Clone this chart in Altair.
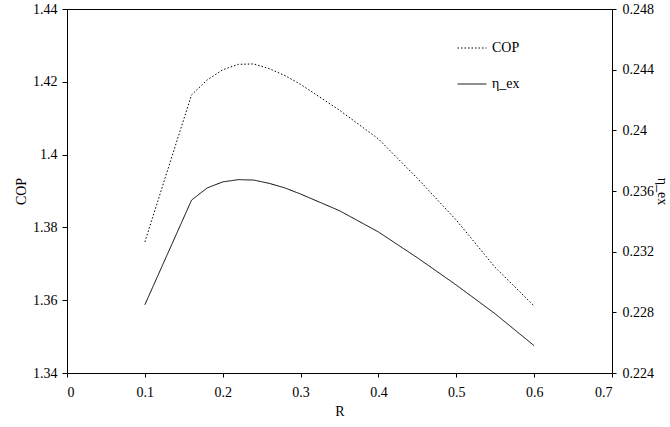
import altair as alt
import pandas as pd

R = [0.10, 0.12, 0.14, 0.16, 0.18, 0.20, 0.22, 0.24, 0.26, 0.28, 0.30,
     0.35, 0.40, 0.45, 0.50, 0.55, 0.60]
COP = [1.3760, 1.3895, 1.4030, 1.4164, 1.4205, 1.4233, 1.4248, 1.4249,
       1.4236, 1.4217, 1.4193, 1.4122, 1.4043, 1.3935, 1.3820, 1.3690, 1.3584]
ETA = [0.2285, 0.2308, 0.2331, 0.2354, 0.2362, 0.2366, 0.23675, 0.23672,
       0.2365, 0.2362, 0.2358, 0.2347, 0.2333, 0.2316, 0.2298, 0.2279, 0.2258]

x_ticks = [0, 0.1, 0.2, 0.3, 0.4, 0.5, 0.6, 0.7]
cop_ticks = [1.34, 1.36, 1.38, 1.40, 1.42, 1.44]
eta_ticks = [0.224, 0.228, 0.232, 0.236, 0.240, 0.244, 0.248]

df = pd.DataFrame({
    "R": R * 2,
    "value": COP + ETA,
    "series": ["COP"] * len(R) + ["η_ex"] * len(R),
})

FONT = "Liberation Serif"
AX = dict(labelFont=FONT, titleFont=FONT, labelFontSize=14, titleFontSize=14,
          titleFontWeight="normal", labelColor="black", titleColor="black",
          domainColor="black", tickColor="black", grid=False, format="~g")

dash = alt.StrokeDash(
    "series:N",
    scale=alt.Scale(domain=["COP", "η_ex"], range=[[1.5, 2], [1, 0]]),
    legend=alt.Legend(
        title=None, orient="none", legendX=390, legendY=24,
        symbolType="stroke", symbolSize=840, symbolStrokeColor="black",
        symbolStrokeWidth=1, labelFont=FONT, labelFontSize=14,
        labelColor="black", labelOffset=5, rowPadding=14,
    ),
)

xenc = alt.X("R:Q", title="R",
             scale=alt.Scale(domain=[0, 0.7], nice=False),
             axis=alt.Axis(values=x_ticks, tickSize=4, labelPadding=8,
                           titlePadding=5, **AX))

cop_line = alt.Chart(df).transform_filter(alt.datum.series == "COP").mark_line(
    color="black", strokeWidth=1
).encode(
    x=xenc,
    y=alt.Y("value:Q", title="COP",
            scale=alt.Scale(domain=[1.34, 1.44], nice=False, zero=False),
            axis=alt.Axis(values=cop_ticks, orient="left", tickSize=5,
                          labelPadding=5, titlePadding=4, **AX)),
    strokeDash=dash,
)

eta_line = alt.Chart(df).transform_filter(alt.datum.series == "η_ex").mark_line(
    color="black", strokeWidth=1
).encode(
    x=xenc,
    y=alt.Y("value:Q", title="η_ex",
            scale=alt.Scale(domain=[0.224, 0.248], nice=False, zero=False),
            axis=alt.Axis(values=eta_ticks, orient="right", tickSize=4,
                          labelPadding=6, titlePadding=1, **AX)),
    strokeDash=dash,
)

chart = alt.layer(cop_line, eta_line).resolve_scale(
    y="independent"
).properties(
    width=545, height=364,
    autosize=alt.AutoSizeParams(type="none"),
    padding={"left": 67, "top": 9, "right": 58, "bottom": 54},
    background="white",
).configure(
    font=FONT
).configure_view(
    stroke="black", strokeWidth=1
)

chart.save("out.html", embed_options={"renderer": "svg", "actions": False})
